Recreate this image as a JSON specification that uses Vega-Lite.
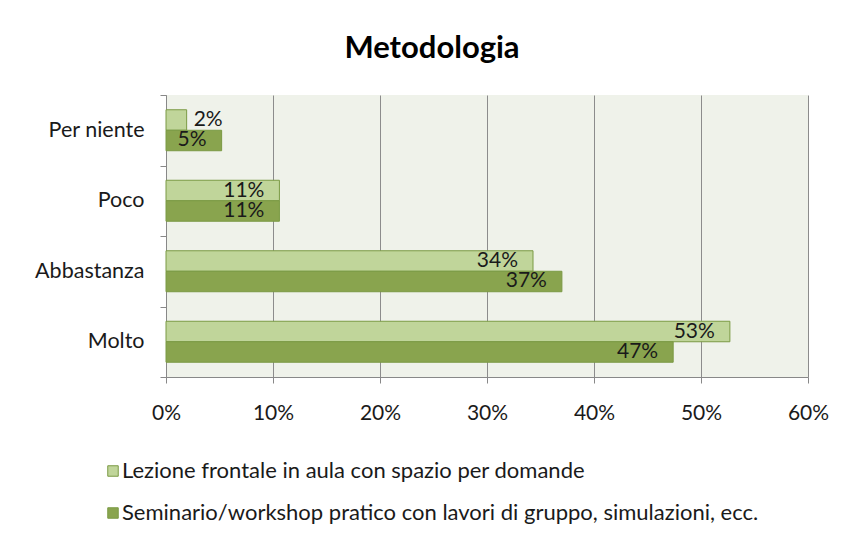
{
  "$schema": "https://vega.github.io/schema/vega-lite/v6.json",
  "width": 642,
  "height": 282,
  "autosize": {"type": "none"},
  "padding": {"left": 166, "top": 95, "right": 36, "bottom": 159},
  "background": "white",
  "title": {"text": "Metodologia", "fontSize": 31, "font": "Lato", "fontWeight": "bold", "color": "black", "anchor": "middle", "dx": -55, "offset": 19},
  "config": {"view": {"fill": "#EFF2EA", "stroke": null}, "font": "Lato"},
  "data": {
    "values": [
      {"cat": "Per niente", "serie": "Lezione frontale in aula con spazio per domande", "value": 0.0193},
      {"cat": "Poco", "serie": "Lezione frontale in aula con spazio per domande", "value": 0.106},
      {"cat": "Abbastanza", "serie": "Lezione frontale in aula con spazio per domande", "value": 0.343},
      {"cat": "Molto", "serie": "Lezione frontale in aula con spazio per domande", "value": 0.527},
      {"cat": "Per niente", "serie": "Seminario/workshop pratico con lavori di gruppo, simulazioni, ecc.", "value": 0.052},
      {"cat": "Poco", "serie": "Seminario/workshop pratico con lavori di gruppo, simulazioni, ecc.", "value": 0.106},
      {"cat": "Abbastanza", "serie": "Seminario/workshop pratico con lavori di gruppo, simulazioni, ecc.", "value": 0.37},
      {"cat": "Molto", "serie": "Seminario/workshop pratico con lavori di gruppo, simulazioni, ecc.", "value": 0.474}
    ]
  },
  "encoding": {
    "y": {
      "field": "cat", "type": "nominal",
      "sort": ["Per niente", "Poco", "Abbastanza", "Molto"],
      "scale": {"paddingInner": 0, "paddingOuter": 0},
      "axis": {"title": null, "tickBand": "extent", "labelFontSize": 21.5, "labelColor": "#1a1a1a", "domainColor": "#888888", "tickColor": "#888888", "tickSize": 6, "labelPadding": 16, "grid": false}
    },
    "yOffset": {
      "field": "serie", "type": "nominal",
      "scale": {"domain": ["Lezione frontale in aula con spazio per domande", "Seminario/workshop pratico con lavori di gruppo, simulazioni, ecc."], "paddingInner": 0, "paddingOuter": 0.72}
    },
    "x": {
      "field": "value", "type": "quantitative",
      "scale": {"domain": [0, 0.6], "nice": false},
      "axis": {"title": null, "values": [0, 0.1, 0.2, 0.3, 0.4, 0.5, 0.6], "format": ".0%", "grid": true, "gridColor": "#8C8C8C", "gridOpacity": 1, "domainColor": "#888888", "tickColor": "#888888", "tickSize": 6, "labelFontSize": 21, "labelColor": "#1a1a1a", "labelPadding": 19, "labelFlush": false}
    }
  },
  "layer": [
    {
      "mark": {"type": "bar", "stroke": "#7B9A44", "strokeWidth": 1},
      "encoding": {
        "color": {
          "field": "serie", "type": "nominal",
          "scale": {"domain": ["Lezione frontale in aula con spazio per domande", "Seminario/workshop pratico con lavori di gruppo, simulazioni, ecc."], "range": ["#C0D59A", "#89A44E"]},
          "legend": {"title": null, "orient": "none", "legendX": -64, "legendY": 365, "direction": "vertical", "symbolType": "square", "symbolSize": 110, "symbolStrokeColor": "#7B9A44", "symbolStrokeWidth": 1, "labelFontSize": 22, "labelColor": "#1a1a1a", "rowPadding": 20, "labelLimit": 900, "labelOffset": -2}
        }
      }
    },
    {
      "transform": [{"filter": "datum.value >= 0.03"}],
      "mark": {"type": "text", "align": "right", "dx": -15, "fontSize": 21, "color": "#1a1a1a", "font": "Lato"},
      "encoding": {"text": {"field": "value", "type": "quantitative", "format": ".0%"}}
    },
    {
      "transform": [{"filter": "datum.value < 0.03"}],
      "mark": {"type": "text", "align": "left", "dx": 7, "fontSize": 21, "color": "#1a1a1a", "font": "Lato"},
      "encoding": {"text": {"field": "value", "type": "quantitative", "format": ".0%"}}
    }
  ]
}
